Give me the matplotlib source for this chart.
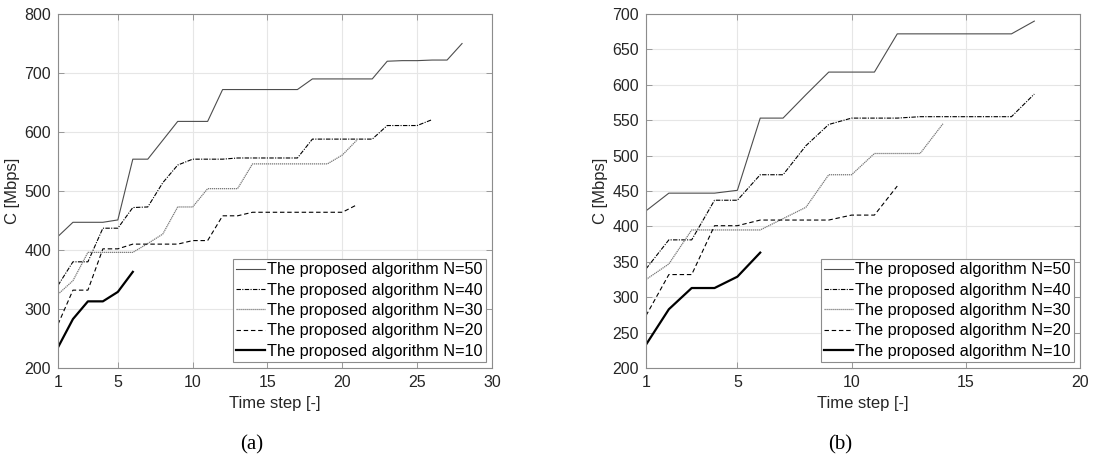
import numpy as np
import matplotlib.pyplot as plt

plt.rcParams['font.family'] = ['Liberation Sans', 'DejaVu Sans']

# --- datos panel (a) ---
t50_a = [423, 447, 447, 447, 451, 554, 554, 586, 618, 618, 618, 672, 672, 672,
         672, 672, 672, 690, 690, 690, 690, 690, 720, 721, 721, 722, 722, 750]
t40_a = [340, 380, 380, 437, 437, 472, 473, 514, 544, 554, 554, 554, 556,
         556, 556, 556, 556, 588, 588, 588, 588, 588, 611, 611, 611, 621]
t30_a = [325, 348, 396, 396, 396, 396, 411, 427, 473, 473, 504, 504, 504,
         546, 546, 546, 546, 546, 546, 561, 587]
t20_a = [274, 332, 332, 402, 402, 410, 410, 410, 410, 416, 416, 458, 458,
         464, 464, 464, 464, 464, 464, 464, 477]
t10_a = [235, 283, 313, 313, 329, 363]

# --- datos panel (b) ---
t50_b = [422, 447, 447, 447, 451, 553, 553, 586, 618, 618, 618, 672, 672,
         672, 672, 672, 672, 690]
t40_b = [340, 381, 381, 437, 437, 473, 473, 514, 544, 553, 553, 553, 555,
         555, 555, 555, 555, 587]
t30_b = [325, 347, 395, 395, 395, 395, 411, 427, 473, 473, 503, 503, 503, 545]
t20_b = [274, 332, 332, 401, 401, 409, 409, 409, 409, 416, 416, 457]
t10_b = [233, 283, 313, 313, 329, 363]

labels = ['The proposed algorithm N=50', 'The proposed algorithm N=40',
          'The proposed algorithm N=30', 'The proposed algorithm N=20',
          'The proposed algorithm N=10']

estilos = [
    dict(color='#4d4d4d', linestyle='-', linewidth=0.8),
    dict(color='black', linestyle=(0, (4, 1.2, 1, 1.2)), linewidth=0.8),
    dict(color='#777777', linestyle=(0, (1, 0.6)), linewidth=0.9),
    dict(color='black', linestyle=(0, (4, 2.5)), linewidth=0.8),
    dict(color='black', linestyle='-', linewidth=1.6),
]

gris = '#262626'


def panel(ax, series, xmax, ylim, yticks, xticks):
    for datos, lab, st in zip(series, labels, estilos):
        x = np.arange(1, len(datos) + 1)
        ax.plot(x, datos, label=lab, **st)
    ax.set_xlim(1, xmax)
    ax.set_ylim(*ylim)
    ax.set_xticks(xticks)
    ax.set_yticks(yticks)
    ax.grid(True, color='#e6e6e6', linewidth=0.8)
    ax.set_axisbelow(True)
    for s in ax.spines.values():
        s.set_color('#8c8c8c')
        s.set_linewidth(0.8)
    ax.tick_params(direction='in', length=4, width=0.6, colors='#8c8c8c',
                   labelcolor=gris, labelsize=11.5, top=True, right=True, pad=5)
    ax.set_xlabel('Time step [-]', fontsize=12, color=gris, labelpad=4)
    ax.set_ylabel('C [Mbps]', fontsize=12, color=gris, labelpad=3)
    leg = ax.legend(loc='lower right', fontsize=11.7, frameon=True,
                    fancybox=False, edgecolor='#8c8c8c', framealpha=1,
                    handlelength=1.75, handletextpad=0.15, labelspacing=0.33,
                    borderpad=0.22, borderaxespad=0.35)
    leg.get_frame().set_linewidth(0.8)
    for t in leg.get_texts():
        t.set_color('black')


fig = plt.figure(figsize=(10.94, 4.57), dpi=100)
ax1 = fig.add_axes([0.0530, 0.1947, 0.3967, 0.7746])
ax2 = fig.add_axes([0.5905, 0.1947, 0.3967, 0.7746])

panel(ax1, [t50_a, t40_a, t30_a, t20_a, t10_a], 30, (200, 800),
      np.arange(200, 801, 100), [1, 5, 10, 15, 20, 25, 30])
panel(ax2, [t50_b, t40_b, t30_b, t20_b, t10_b], 20, (200, 700),
      np.arange(200, 701, 50), [1, 5, 10, 15, 20])

fig.text(252 / 1094, 1 - 445 / 457, '(a)', family='Liberation Serif',
         fontsize=15, ha='center', va='center')
fig.text(840 / 1094, 1 - 445 / 457, '(b)', family='Liberation Serif',
         fontsize=15, ha='center', va='center')

fig.savefig('out.png', dpi=100)
